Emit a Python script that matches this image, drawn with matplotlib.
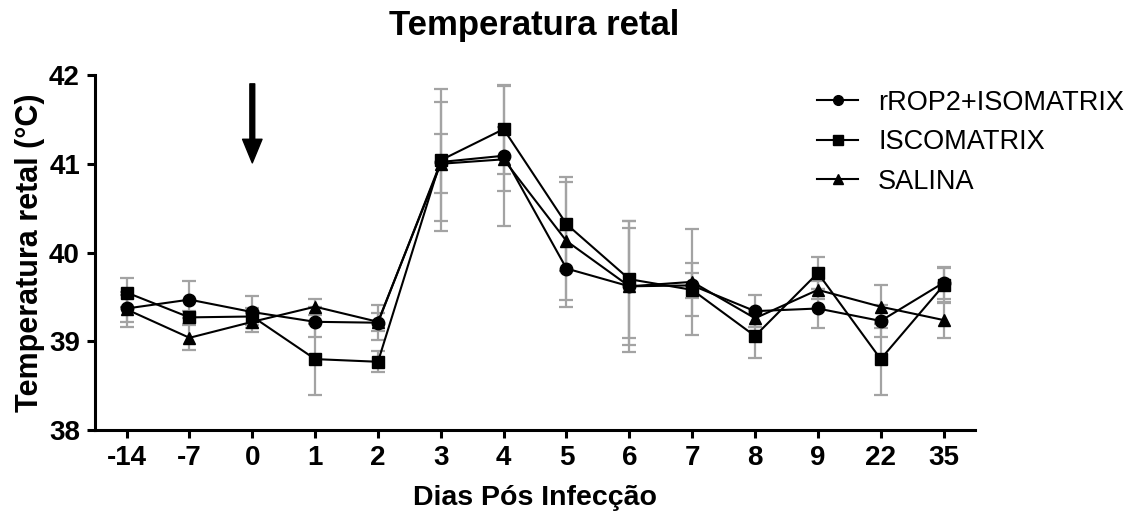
import matplotlib
matplotlib.use("Agg")
import matplotlib.pyplot as plt
from matplotlib.lines import Line2D

plt.rcParams['font.family'] = ['Liberation Sans', 'DejaVu Sans']

# Data
days = ['-14', '-7', '0', '1', '2', '3', '4', '5', '6', '7', '8', '9', '22', '35']

rrop2 = [39.37, 39.47, 39.33, 39.22, 39.21, 41.02, 41.09, 39.82, 39.62, 39.63, 39.34, 39.37, 39.23, 39.66]
rrop2_err = [0.15, 0.21, 0.18, 0.17, 0.20, 0.67, 0.79, 0.43, 0.66, 0.14, 0.18, 0.22, 0.18, 0.18]

iscomatrix = [39.55, 39.27, 39.28, 38.80, 38.77, 41.04, 41.39, 40.32, 39.70, 39.58, 39.06, 39.77, 38.80, 39.63]
iscomatrix_err = [0.16, 0.07, 0.10, 0.40, 0.12, 0.80, 0.50, 0.53, 0.66, 0.30, 0.25, 0.18, 0.40, 0.20]

salina = [39.36, 39.04, 39.22, 39.39, 39.22, 41.00, 41.05, 40.13, 39.62, 39.67, 39.26, 39.58, 39.39, 39.24]
salina_err = [0.20, 0.14, 0.12, 0.09, 0.10, 0.33, 0.36, 0.66, 0.74, 0.60, 0.10, 0.10, 0.24, 0.20]

series = [
    ("rROP2+ISOMATRIX", rrop2, rrop2_err, 'o'),
    ("ISCOMATRIX", iscomatrix, iscomatrix_err, 's'),
    ("SALINA", salina, salina_err, '^'),
]

x = list(range(len(days)))

fig = plt.figure(figsize=(11.47, 5.17), dpi=100)
ax = fig.add_axes([0.083, 0.168, 0.767, 0.687])

# grey error bars first, black lines on top
for name, vals, err, mk in series:
    ax.errorbar(x, vals, yerr=err, fmt='none', ecolor='#a3a3a3',
                elinewidth=1.6, capsize=5, capthick=1.6, zorder=1)

handles = []
for name, vals, err, mk in series:
    ax.plot(x, vals, color='black', linewidth=1.5, marker=mk,
            markersize=9, zorder=3)
    handles.append(Line2D([], [], color='black', linewidth=1.5, marker=mk,
                          markersize=7, label=name))

# arrow marking day 0
ax.annotate('', xy=(2, 41.01), xytext=(2, 41.9),
            arrowprops=dict(facecolor='black', edgecolor='black',
                            width=3.5, headwidth=14, headlength=17, shrink=0))

ax.set_xlim(-0.5, 13.5)
ax.set_ylim(38, 42)
ax.set_xticks(x)
ax.set_xticklabels(days)
ax.set_yticks([38, 39, 40, 41, 42])

for side in ['top', 'right']:
    ax.spines[side].set_visible(False)
for side in ['left', 'bottom']:
    ax.spines[side].set_linewidth(2.2)

ax.tick_params(axis='both', direction='out', length=6, width=2.2,
               labelsize=20, pad=5)
for lbl in ax.get_xticklabels() + ax.get_yticklabels():
    lbl.set_fontweight('bold')

ax.set_xlabel("Dias Pós Infecção", fontsize=20.5, fontweight='bold', labelpad=10)
ax.set_ylabel("Temperatura retal (°C)", fontsize=22, fontweight='bold', labelpad=3)
fig.suptitle("Temperatura retal", fontsize=25, fontweight='bold', x=0.466, y=0.982)

fig.legend(handles=handles, loc='upper left', bbox_to_anchor=(0.696, 0.863),
           frameon=False, fontsize=19.5, handlelength=1.5, handletextpad=0.75,
           labelspacing=0.5, borderpad=0.2)

fig.savefig("out.png", dpi=100)
